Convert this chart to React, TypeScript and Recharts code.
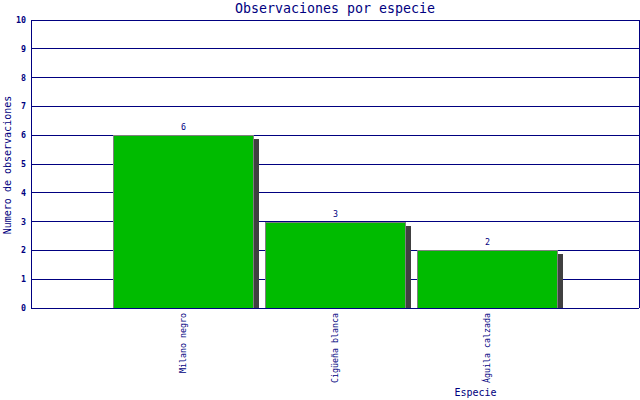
import React from "react";
import {
  BarChart,
  Bar,
  XAxis,
  YAxis,
  CartesianGrid,
  LabelList,
  ReferenceLine,
  Label,
} from "recharts";

const species = ["Milano negro", "Cigüeña blanca", "Águila calzada"];
const positions = [1, 2, 3];
const counts = [6, 3, 2];
const yTicks = [0, 1, 2, 3, 4, 5, 6, 7, 8, 9, 10];

const data = species.map((name, i) => ({ pos: positions[i], name, value: counts[i] }));

const NAVY = "#000080";
const MONO = "'DejaVu Sans Mono', monospace";

const BarShape = (props: any) => {
  const { x, y, width, height } = props;
  if (height <= 0) return null;
  return (
    <g shapeRendering="crispEdges">
      <rect x={x + width} y={y + 4} width={5} height={height - 4} fill="#404040" />
      <rect x={x + 0.5} y={y + 0.5} width={width - 1} height={height - 0.5} fill="#00BB00" stroke="#808080" strokeWidth={1} />
    </g>
  );
};

const XTick = (props: any) => {
  const { x, y, payload } = props;
  const idx = positions.indexOf(payload.value);
  const label = idx >= 0 ? species[idx] : "";
  return (
    <text
      x={x}
      y={y}
      transform={`rotate(-90, ${x}, ${y})`}
      textAnchor="end"
      dominantBaseline="central"
      fontFamily={MONO}
      fontSize={8.3}
      fill={NAVY}
    >
      {label}
    </text>
  );
};

export default function App() {
  return (
    <div style={{ position: "absolute", left: 0, top: 0, width: 640, height: 400, background: "#fff" }}>
      <div
        style={{
          position: "absolute",
          left: 31,
          width: 608,
          top: 0,
          textAlign: "center",
          fontFamily: MONO,
          fontSize: 13.3,
          lineHeight: "17px",
          color: NAVY,
        }}
      >
        Observaciones por especie
      </div>
      <BarChart
        width={640}
        height={400}
        data={data}
        margin={{ top: 20, right: 1, left: 0, bottom: 0 }}
      >
        <CartesianGrid horizontal vertical={false} stroke={NAVY} strokeOpacity={1} shapeRendering="crispEdges" />
        <XAxis
          dataKey="pos"
          type="number"
          domain={[0, 4]}
          ticks={positions}
          height={92}
          tickLine={false}
          tickSize={0}
          axisLine={{ stroke: NAVY, shapeRendering: "crispEdges" }}
          tick={<XTick />}
          tickMargin={5}
          interval={0}
          allowDataOverflow
        >
          <Label
            content={() => (
              <text x={475.5} y={396} textAnchor="middle" fontFamily={MONO} fontSize={10} fill={NAVY}>
                Especie
              </text>
            )}
          />
        </XAxis>
        <YAxis
          type="number"
          domain={[0, 10]}
          ticks={yTicks}
          width={31}
          tickLine={false}
          tickSize={0}
          tickMargin={5}
          interval={0}
          axisLine={{ stroke: NAVY, shapeRendering: "crispEdges" }}
          tick={{ fontFamily: MONO, fontSize: 8.3, fill: NAVY, fontWeight: "bold" }}
        >
          <Label
            content={() => (
              <text
                x={7}
                y={165}
                transform="rotate(-90, 7, 165)"
                textAnchor="middle"
                dominantBaseline="central"
                fontFamily={MONO}
                fontSize={10}
                fill={NAVY}
              >
                Numero de observaciones
              </text>
            )}
          />
        </YAxis>
        <ReferenceLine x={4} stroke={NAVY} shapeRendering="crispEdges" ifOverflow="visible" />
        <Bar dataKey="value" barSize={141} isAnimationActive={false} shape={<BarShape />}>
          <LabelList dataKey="value" position="top" offset={5} fontFamily={MONO} fontSize={8.3} fill={NAVY} />
        </Bar>
      </BarChart>
    </div>
  );
}
